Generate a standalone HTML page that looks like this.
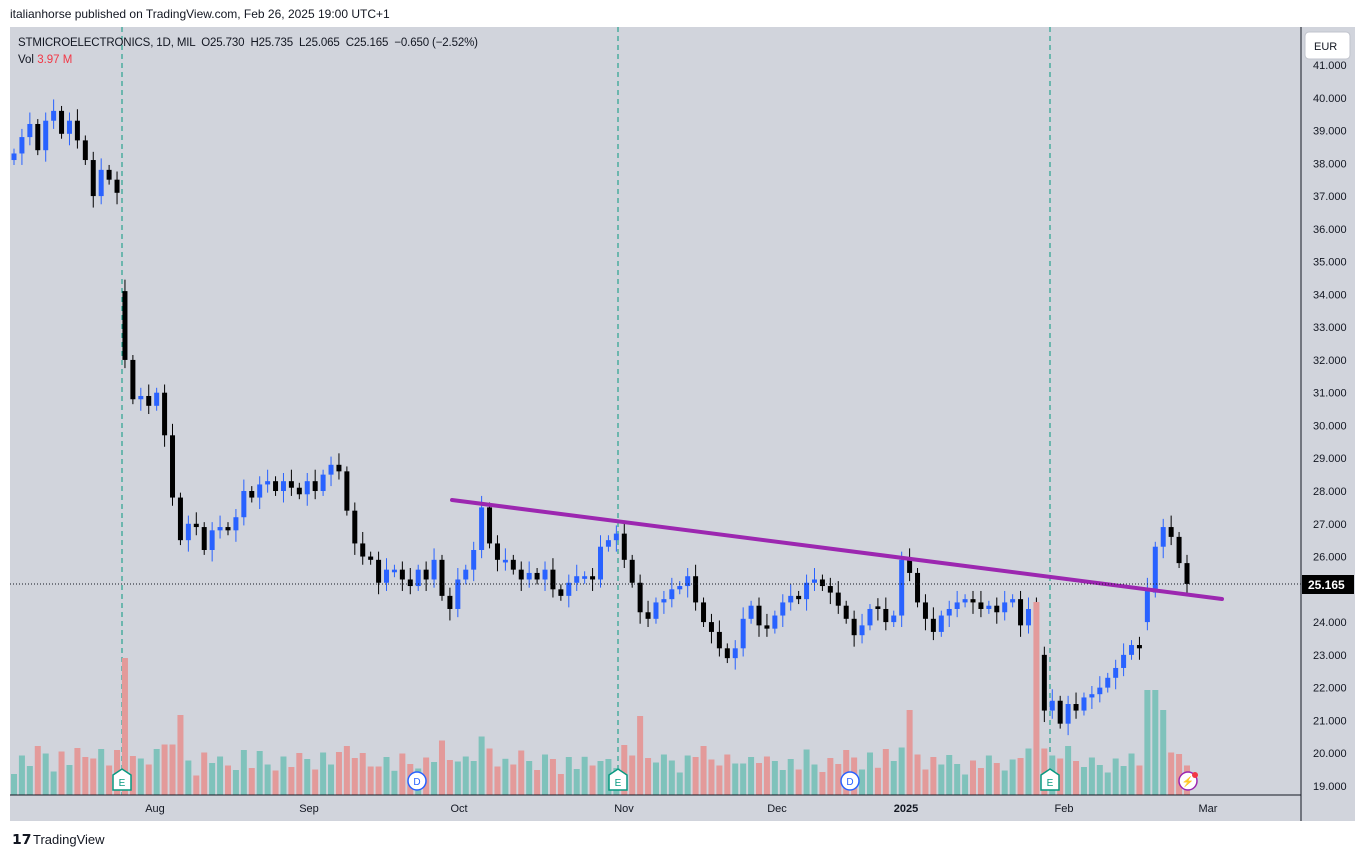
<!DOCTYPE html>
<html><head><meta charset="utf-8"><style>
body{margin:0;width:1365px;height:857px;background:#fff;font-family:"Liberation Sans",sans-serif;overflow:hidden;position:relative}
.t{position:absolute;font-size:12px;color:#131722}
</style></head><body>
<div class="t" style="left:10px;top:7px;font-size:12px">italianhorse published on TradingView.com, Feb 26, 2025 19:00 UTC+1</div>
<svg id="s" width="1365" height="857" style="position:absolute;left:0;top:0"></svg>
<script>
const S=document.getElementById('s');let h='';
h+='<rect x="10" y="27" width="1345" height="794" fill="#d1d4dc"/>';
const Y=p=>65+(41-p)*32.77;
for(let p=19;p<=41;p++){h+=`<text x="1313" y="${Y(p)+4}" font-size="11" fill="#131722">${p}.000</text>`;}
[122,618,1050].forEach(x=>h+=`<line x1="${x}" y1="27" x2="${x}" y2="795" stroke="#089981" stroke-dasharray="5,4" stroke-width="1"/>`);
const C=[38.3,38.8,39.2,38.4,39.3,39.6,38.9,39.3,38.7,38.1,37.0,37.8,37.5,37.1,32.0,30.8,30.9,30.6,31.0,29.7,27.8,26.5,27.0,26.9,26.2,26.8,26.9,26.8,27.2,28.0,27.8,28.2,28.3,28.0,28.3,28.1,27.9,28.3,28.0,28.5,28.8,28.6,27.4,26.4,26.0,25.9,25.2,25.6,25.6,25.3,25.1,25.6,25.3,25.9,24.8,24.4,25.3,25.6,26.2,27.5,26.4,25.9,25.9,25.6,25.3,25.5,25.3,25.6,25.0,24.8,25.2,25.4,25.4,25.3,26.3,26.5,26.7,25.9,25.2,24.3,24.1,24.6,24.7,25.0,25.1,25.4,24.6,24.0,23.7,23.2,22.9,23.2,24.1,24.5,23.9,23.8,24.2,24.6,24.8,24.7,25.2,25.3,25.1,24.9,24.5,24.1,23.6,23.9,24.4,24.4,24.0,24.2,25.9,25.5,24.6,24.1,23.7,24.2,24.4,24.6,24.7,24.6,24.4,24.5,24.3,24.6,24.7,23.9,24.4,23.0,21.3,21.6,20.9,21.5,21.3,21.7,21.8,22.0,22.3,22.6,23.0,23.3,23.2,25.0,26.3,26.9,26.6,25.8,25.165];
const n=C.length,x0=14,x1=1187,dx=(x1-x0)/(n-1);
const iDrop=C.lastIndexOf(23.0,140)<0?0:C.indexOf(23.0,120);
const iJump=C.lastIndexOf(25.0);
for(let i=0;i<n;i++){
 const x=x0+i*dx;let o=i?C[i-1]:38.1,c=C[i];
 if(i==14)o=34.1; if(i==iDrop)o=24.6; if(i==iJump)o=24.0; if(i==iJump+1)o=24.9;
 if(Math.abs(o-c)<0.05)o=c+0.08*(i%2?1:-1);
 const up=c>=o,hi=Math.max(o,c)+0.15+0.2*((i*7)%3)/2,lo=Math.min(o,c)-0.15-0.2*((i*5)%3)/2;
 const col=up?'#2962ff':'#000';
 h+=`<line x1="${x}" y1="${Y(hi)}" x2="${x}" y2="${Y(lo)}" stroke="${col}"/>`;
 h+=`<rect x="${x-2.5}" y="${Y(Math.max(o,c))}" width="5" height="${Math.max(1,Math.abs(Y(o)-Y(c)))}" fill="${col}"/>`;
 let v=18+((i*37)%23)+(Math.abs(o-c)*15);
 if(i==14)v=137; if(i==iDrop)v=193; if(i==79)v=79; if(i==21)v=80; if(i==113)v=85; if(i==iJump||i==iJump+1)v=105; if(i==iJump+2)v=85;
 v=Math.min(v,193);
 h+=`<rect x="${x-3}" y="${795-v}" width="6" height="${v}" fill="${up?'#7fc2bb':'#e39a9a'}"/>`;
}
h+='<line x1="452" y1="500" x2="1222" y2="599" stroke="#9c27b0" stroke-width="4" stroke-linecap="round"/>';
h+='<line x1="10" y1="584" x2="1301" y2="584" stroke="#131722" stroke-dasharray="1,2"/>';
h+='<line x1="1301" y1="27" x2="1301" y2="821" stroke="#131722"/><line x1="10" y1="795" x2="1301" y2="795" stroke="#131722"/>';
h+='<rect x="1302" y="575" width="52" height="19" fill="#000"/><text x="1308" y="589" font-size="12" font-weight="bold" fill="#fff">25.165</text>';
h+='<rect x="1305" y="32" width="45" height="27" rx="4" fill="#fff" stroke="#c0c3cc"/><text x="1314" y="50" font-size="11" fill="#131722">EUR</text>';
[['Aug',155],['Sep',309],['Oct',459],['Nov',624],['Dec',777],['2025',906],['Feb',1064],['Mar',1208]].forEach(([t,x])=>h+=`<text x="${x}" y="812" font-size="11" text-anchor="middle" fill="#131722" ${t=='2025'?'font-weight="bold"':''}>${t}</text>`);
[122,618,1050].forEach(x=>h+=`<path d="M${x-9} 775 L${x} 769 L${x+9} 775 V790 H${x-9}Z" fill="#fff" stroke="#089981" stroke-width="1.5"/><text x="${x}" y="786" font-size="10" text-anchor="middle" fill="#089981">E</text>`);
[417,850].forEach(x=>h+=`<circle cx="${x}" cy="781" r="9" fill="#fff" stroke="#2962ff" stroke-width="1.5"/><text x="${x}" y="785" font-size="10" text-anchor="middle" fill="#2962ff">D</text>`);
h+='<circle cx="1188" cy="781" r="9" fill="#fff" stroke="#9c27b0" stroke-width="1.5"/><text x="1188" y="785" font-size="10" text-anchor="middle" fill="#9c27b0">⚡</text><circle cx="1195" cy="775" r="3" fill="#f23645"/>';
h+='<text x="18" y="46" font-size="11.5" fill="#131722" textLength="460" xml:space="preserve">STMICROELECTRONICS, 1D, MIL  O25.730  H25.735  L25.065  C25.165  −0.650 (−2.52%)</text>';
h+='<text x="18" y="63" font-size="11.5" fill="#131722">Vol <tspan fill="#f23645">3.97 M</tspan></text>';
h+='<text x="12" y="844" font-size="14" font-weight="bold" fill="#131722">𝟭𝟳</text><text x="33" y="844" font-size="13" fill="#131722">TradingView</text>';
S.innerHTML=h;
</script>
</body></html>
